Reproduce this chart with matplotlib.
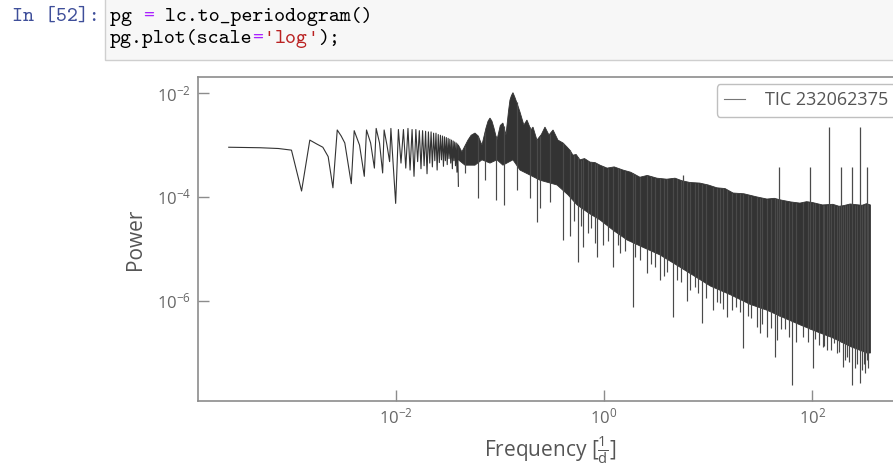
import numpy as np
import matplotlib
matplotlib.use("Agg")
import matplotlib.pyplot as plt
from matplotlib.patches import Rectangle
from matplotlib.ticker import FixedLocator, NullLocator

# notebook cell text
prompt_text = 'In [52]:'
code_lines = [
    [('pg ', '#000000'), ('=', '#aa22ff'), (' lc.to_periodogram()', '#000000')],
    [('pg.plot(scale', '#000000'), ('=', '#aa22ff'), ("'", '#ba2121'), ('log', '#ba2121'),
     ("'", '#ba2121'), (');', '#000000')],
]
legend_label = 'TIC 232062375'

# low frequency part: flat start, then the sinc sidelobes (read point by point)
low_freq = [2.5e-4, 5.0e-4, 7.5e-4, 1.0e-3, 1.25e-3, 1.5e-3, 1.75e-3, 2.0e-3, 2.25e-3,
            2.5e-3, 2.75e-3, 3.0e-3, 3.25e-3, 3.75e-3, 4.0e-3, 4.5e-3, 5.0e-3, 5.25e-3,
            5.75e-3, 6.25e-3, 6.5e-3, 7.0e-3, 7.5e-3, 7.75e-3, 8.25e-3, 8.75e-3, 9.0e-3,
            0.01, 0.010625, 0.01125, 0.011875, 0.0125, 0.013125, 0.01375, 0.014375,
            0.015, 0.015625, 0.01625, 0.016875, 0.0175, 0.018125, 0.01875, 0.019375,
            0.02, 0.020625, 0.02125, 0.021875, 0.0225, 0.023125, 0.02375, 0.024375,
            0.025, 0.025625, 0.02625, 0.026875, 0.0275, 0.028125, 0.02875, 0.029375,
            0.03, 0.030625, 0.03125, 0.031875, 0.0325, 0.033125, 0.03375, 0.034375,
            0.035, 0.035625, 0.03625, 0.036875, 0.0375, 0.038125, 0.03875, 0.039375, 0.04]
low_power = [9.1e-4, 8.9e-4, 8.6e-4, 8.0e-4, 1.3e-4, 1.25e-3, 1.05e-3, 9.1e-4, 6.0e-4,
             1.5e-4, 1.96e-3, 1.5e-3, 1.1e-3, 1.8e-4, 1.9e-3, 1.0e-3, 2.5e-4, 1.96e-3,
             1.1e-3, 3.6e-4, 2.1e-3, 1.1e-3, 2.9e-4, 1.96e-3, 1.0e-3, 4.8e-4, 2.1e-3,
             7.5e-5, 2.0e-3, 4.5e-4, 2.0e-3, 3.6e-4, 2.1e-3, 3.3e-4, 2.0e-3,
             2.5e-4, 2.0e-3, 4.8e-4, 1.9e-3, 3.5e-4, 1.9e-3, 4.0e-4, 1.85e-3,
             2.8e-4, 1.8e-3, 4.5e-4, 1.8e-3, 3.8e-4, 1.7e-3, 5.0e-4, 1.7e-3,
             3.3e-4, 1.6e-3, 4.6e-4, 1.55e-3, 5.2e-4, 1.5e-3, 3.9e-4, 1.45e-3,
             5.0e-4, 1.4e-3, 4.2e-4, 1.35e-3, 5.5e-4, 1.3e-3, 4.5e-4, 1.25e-3,
             3.5e-4, 1.2e-3, 5.0e-4, 1.15e-3, 4.0e-4, 1.1e-3, 3.0e-4, 1.05e-3, 1.6e-4]

# dense part: upper edge of the band
top_freq = [0.040, 0.0432, 0.0494, 0.053, 0.0577, 0.062, 0.0673, 0.0736, 0.077, 0.0804,
            0.084, 0.0878, 0.0938, 0.101, 0.107, 0.1145, 0.121, 0.125, 0.129, 0.1336,
            0.139, 0.146, 0.156, 0.170, 0.182, 0.199, 0.208, 0.227, 0.250, 0.271,
            0.296, 0.324, 0.361, 0.404, 0.441, 0.47, 0.503, 0.54, 0.587, 0.65,
            0.733, 0.82, 0.914, 1.07, 1.25, 1.52, 1.8, 2.21, 2.6, 3.22,
            4.0, 4.8, 5.6, 6.67, 8.3, 10.0, 12.1, 14.5, 17.3, 22.0,
            29.3, 36.6, 43.0, 50.0, 62.0, 75.8, 88.0, 100.0, 125.0, 157.0,
            180.0, 200.0, 230.0, 260.0, 300.0, 330.0, 360.0]
top_power = [1.0e-3, 7.4e-4, 1.25e-3, 1.55e-3, 1.71e-3, 1.5e-3, 1.0e-3, 2.14e-3, 2.9e-3, 3.33e-3,
             2.9e-3, 2.14e-3, 1.25e-3, 2.4e-3, 2.67e-3, 1.57e-3, 4.5e-3, 7.4e-3, 9.0e-3, 1.03e-2,
             8.5e-3, 6.5e-3, 4.36e-3, 2.44e-3, 3.05e-3, 1.96e-3, 2.23e-3, 1.25e-3, 1.6e-3, 2.23e-3,
             1.57e-3, 1.96e-3, 1.25e-3, 1.1e-3, 9.2e-4, 8.0e-4, 6.4e-4, 6.6e-4, 5.2e-4, 5.5e-4,
             4.7e-4, 4.6e-4, 4.1e-4, 3.6e-4, 3.8e-4, 3.3e-4, 3.0e-4, 2.4e-4, 2.6e-4, 2.3e-4,
             2.2e-4, 2.3e-4, 2.05e-4, 1.9e-4, 1.85e-4, 1.7e-4, 1.5e-4, 1.45e-4, 1.19e-4, 1.15e-4,
             1.0e-4, 9.1e-5, 9.4e-5, 8.7e-5, 8.0e-5, 7.6e-5, 8.1e-5, 7.8e-5, 7.0e-5, 7.2e-5,
             6.6e-5, 6.8e-5, 7.3e-5, 7.1e-5, 6.9e-5, 7.4e-5, 7.0e-5]

# dense part: lower edge of the solid core
core_freq = [0.040, 0.0463, 0.0577, 0.0673, 0.0804, 0.0938, 0.107, 0.1336, 0.156, 0.194,
             0.243, 0.354, 0.45, 0.551, 0.72, 0.914, 1.25, 1.67, 2.4, 3.44,
             5.0, 7.1, 10.5, 16.5, 25.0, 36.6, 55.0, 75.8, 110.0, 157.0,
             230.0, 333.0, 360.0]
core_power = [5.2e-4, 4.1e-4, 4.1e-4, 5.2e-4, 4.5e-4, 5.2e-4, 4.1e-4, 5.2e-4, 3.3e-4, 2.65e-4,
              2.1e-4, 1.7e-4, 1.1e-4, 7.0e-5, 4.8e-5, 3.6e-5, 2.2e-5, 1.47e-5, 1.05e-5, 7.6e-6,
              4.8e-6, 3.1e-6, 1.9e-6, 1.28e-6, 8.5e-7, 6.5e-7, 4.5e-7, 3.4e-7, 2.5e-7, 1.9e-7,
              1.3e-7, 9.7e-8, 9.7e-8]

# single downward dips below the core
dip_freq = [0.0463, 0.0616, 0.0721, 0.0917, 0.109, 0.145, 0.194, 0.225, 0.243, 0.30,
            0.404, 0.47, 0.52, 0.559, 0.6, 0.627, 0.70, 0.75, 0.81, 0.854,
            0.98, 1.1, 1.22, 1.35, 1.42, 1.6, 1.89, 2.0, 2.2, 2.61,
            2.8, 3.1, 3.45, 3.8, 4.0, 4.59, 5.0, 5.5, 6.2, 6.7,
            7.5, 8.0, 8.7, 9.5, 11.1, 12.0, 13.0, 14.0, 15.1, 17.0,
            18.5, 20.0, 21.4, 24.0, 26.0, 29.3, 31.5, 33.0, 36.6, 40.0,
            43.7, 46.1, 50.0, 55.0, 60.0, 63.4, 70.0, 81.2, 90.0, 101.0,
            105.0, 115.0, 125.0, 130.0, 137.0, 150.0, 160.0, 171.0, 180.0, 195.0,
            205.0, 215.0, 225.0, 240.0, 255.0, 270.0, 283.0, 300.0, 310.0, 320.0,
            333.0, 345.0]
dip_power = [2.9e-4, 9.5e-5, 2.1e-4, 8.7e-5, 7.0e-5, 1.36e-4, 9.5e-5, 3.3e-5, 6.1e-5, 8.0e-5,
             1.47e-5, 1.76e-5, 3.5e-5, 5.5e-6, 2.8e-5, 1.08e-5, 2.0e-5, 2.5e-5, 1.29e-5, 6.9e-6,
             1.17e-5, 1.4e-5, 4.4e-6, 1.2e-5, 8.3e-6, 9.0e-6, 7.6e-7, 7.0e-6, 6.0e-6, 3.4e-6,
             5.0e-6, 4.5e-6, 2.5e-6, 3.0e-6, 3.5e-6, 4.9e-7, 2.5e-6, 2.3e-6, 1.0e-6, 1.6e-6,
             1.8e-6, 1.4e-6, 3.7e-7, 1.1e-6, 6.6e-7, 9.5e-7, 9.0e-7, 7.0e-7, 4.9e-7, 6.5e-7,
             7.5e-7, 6.0e-7, 1.23e-7, 5.0e-7, 4.5e-7, 3.1e-7, 2.4e-7, 3.5e-7, 2.0e-7, 3.0e-7,
             8.1e-8, 1.75e-7, 2.8e-7, 2.8e-7, 2.0e-7, 2.3e-8, 1.6e-7, 2.0e-7, 1.6e-7, 5.0e-8,
             1.8e-7, 1.4e-7, 1.26e-7, 1.3e-7, 1.1e-7, 1.1e-7, 1.5e-7, 9.7e-8, 1.0e-7, 5.2e-8,
             7.0e-8, 8.0e-8, 6.5e-8, 2.3e-8, 5.0e-8, 6.0e-8, 2.6e-8, 4.5e-8, 6.0e-8, 4.0e-8,
             7.1e-8, 5.0e-8]

# single upward peaks above the band
peak_freq = [5.7, 47.6, 95.0, 143.0, 190.0, 239.0, 287.0, 334.0]
peak_power = [2.65e-4, 3.8e-4, 3.8e-4, 2.2e-3, 3.8e-4, 3.8e-4, 2.26e-3, 3.8e-4]

plt.rcParams['font.family'] = ['Open Sans', 'DejaVu Sans']
plt.rcParams['mathtext.default'] = 'regular'

line_color = '#333333'
grey_text = '#555555'

fig = plt.figure(figsize=(8.93, 4.66), dpi=100)
W, H = 893.0, 466.0

# notebook input cell
fig.add_artist(Rectangle((105 / W, 1 - 60 / H), 1.0, 0.2, transform=fig.transFigure,
                         facecolor='#f7f7f7', edgecolor='#cfcfcf', lw=1))
mono = 'cmtt10'
char_w = 10.96
fig.text(12 / W, 1 - 17 / H, prompt_text, family=mono, fontsize=15, color='#3f4f9a',
         va='center', ha='left')
for row, segs in enumerate(code_lines):
    ypix = 17 + 22 * row
    nchar = 0
    for txt, col in segs:
        # cmtt10 has a curly quote, so the straight one comes from a sans mono
        fam = 'DejaVu Sans Mono' if txt == "'" else mono
        fig.text((110 + nchar * char_w) / W, 1 - ypix / H, txt,
                 family=fam, fontsize=15 if fam == mono else 13, color=col,
                 va='center', ha='left')
        nchar += len(txt)

ax = fig.add_axes([198 / W, 1 - 400.7 / H, 705 / W, 323.7 / H])
ax.set_xscale('log')
ax.set_yscale('log')

ax.plot(low_freq, low_power, color=line_color, lw=0.8, label=legend_label)

band_x = np.concatenate([top_freq, core_freq[::-1]])
band_y = np.concatenate([top_power, core_power[::-1]])
ax.fill(band_x, band_y, color=line_color, lw=0.6, ec=line_color)

# dips go from their bottom up into the band, peaks from the band up to their tip
lt_f, lt_p = np.log10(top_freq), np.log10(top_power)
lc_f, lc_p = np.log10(core_freq), np.log10(core_power)
dip_top = 10 ** np.interp(np.log10(dip_freq), lt_f, lt_p)
ax.vlines(dip_freq, dip_power, dip_top, color='#4a4a4a', lw=0.85)
peak_base = 10 ** np.interp(np.log10(peak_freq), lc_f, lc_p)
ax.vlines(peak_freq, peak_base, peak_power, color='#4a4a4a', lw=0.9)

ax.set_xlim(10 ** -3.897, 10 ** 2.869)
ax.set_ylim(10 ** -7.934, 10 ** -1.685)

ax.xaxis.set_major_locator(FixedLocator([1e-2, 1e0, 1e2]))
ax.yaxis.set_major_locator(FixedLocator([1e-6, 1e-4, 1e-2]))
ax.xaxis.set_minor_locator(NullLocator())
ax.yaxis.set_minor_locator(NullLocator())
ax.tick_params(direction='in', length=8, width=1, color='#8c8c8c',
               labelcolor='#666666', labelsize=12, pad=5)
for sp in ax.spines.values():
    sp.set_color('#8c8c8c')
    sp.set_linewidth(1.2)

ax.set_xlabel(r'Frequency [$\frac{1}{d}$]', fontsize=15, color=grey_text, labelpad=4)
ax.set_ylabel('Power', fontsize=15, color=grey_text, labelpad=8)

leg = ax.legend(loc='upper right', fontsize=13, handlelength=1.2, handletextpad=1.1,
                frameon=True, fancybox=True, borderpad=0.4, borderaxespad=0.4)
leg.get_frame().set_edgecolor('#b0b0b0')
leg.get_frame().set_linewidth(1.0)
for t in leg.get_texts():
    t.set_color(grey_text)
leg.get_lines()[0].set_color('#777777')

fig.savefig('out.png', dpi=100)
